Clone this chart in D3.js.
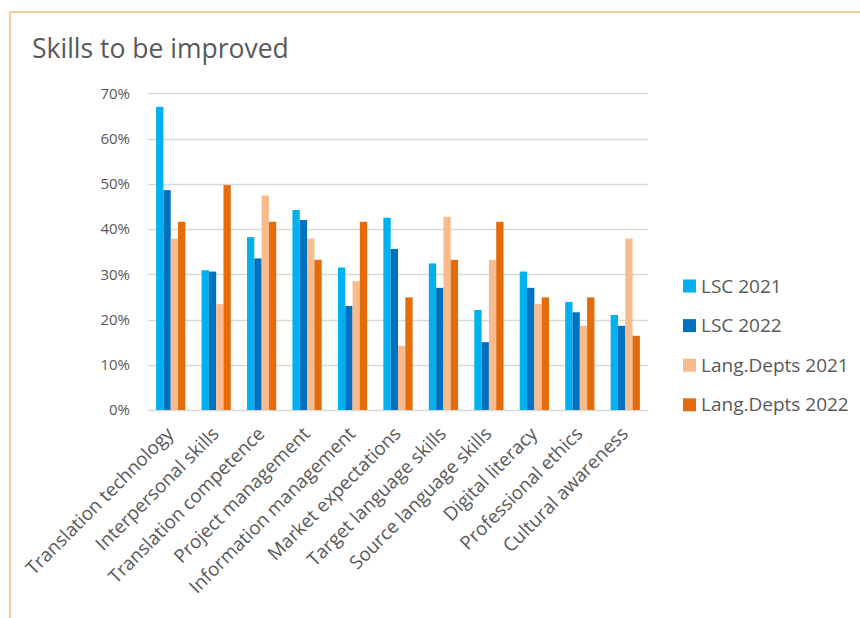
<!DOCTYPE html>
<html>
<head>
<meta charset="utf-8">
<script src="https://cdn.jsdelivr.net/npm/d3@7"></script>
<style>
  html, body { margin: 0; padding: 0; background: #fff; }
  svg { display: block; font-family: "Open Sans", "Liberation Sans", sans-serif; }
</style>
</head>
<body>
<svg id="chart" width="860" height="618"></svg>
<script>
// Skills categories and survey shares (percent)
const categories = [
  "Translation technology", "Interpersonal skills", "Translation competence",
  "Project management", "Information management", "Market expectations",
  "Target language skills", "Source language skills", "Digital literacy",
  "Professional ethics", "Cultural awareness"
];
const seriesNames = ["LSC 2021", "LSC 2022", "Lang.Depts 2021", "Lang.Depts 2022"];
const lsc2021 = [67.0, 30.9, 38.2, 44.2, 31.5, 42.5, 32.4, 22.1, 30.6, 23.9, 21.0];
const lsc2022 = [48.6, 30.6, 33.5, 42.0, 23.0, 35.6, 27.0, 15.0, 27.0, 21.6, 18.6];
const lang2021 = [37.9, 23.4, 47.4, 37.9, 28.5, 14.2, 42.7, 33.2, 23.4, 18.6, 37.9];
const lang2022 = [41.6, 49.7, 41.6, 33.2, 41.6, 24.9, 33.2, 41.6, 24.9, 24.9, 16.4];
const yTicks = [0, 10, 20, 30, 40, 50, 60, 70];
const colors = ["#00b0f0", "#0070c0", "#f8bb8e", "#e46c0a"];

const seriesValues = [lsc2021, lsc2022, lang2021, lang2022];
const rows = categories.map((c, i) => ({ cat: c, vals: seriesValues.map(s => s[i]) }));

const svg = d3.select("#chart");
const textColor = "#595959";

// Chart frame (top and left edges)
svg.append("line").attr("x1", 10).attr("x2", 860).attr("y1", 12).attr("y2", 12)
  .attr("stroke", "#f9c9a0").attr("stroke-width", 2);
svg.append("line").attr("x1", 10).attr("x2", 10).attr("y1", 12).attr("y2", 618)
  .attr("stroke", "#f9c9a0").attr("stroke-width", 2);

// Title
svg.append("text").attr("x", 32).attr("y", 58)
  .attr("font-size", 26.5).attr("fill", textColor).text("Skills to be improved");

const plot = { left: 148, right: 648, top: 93.3, bottom: 410 };

const x0 = d3.scaleBand().domain(categories)
  .range([plot.left, plot.right]).paddingInner(0.357).paddingOuter(0.1785);
const x1 = d3.scaleBand().domain(d3.range(seriesNames.length))
  .range([0, x0.bandwidth()]);
const y = d3.scaleLinear().domain([0, 70]).range([plot.bottom, plot.top]);

// Gridlines
svg.append("g").selectAll("line").data(yTicks).join("line")
  .attr("x1", plot.left).attr("x2", plot.right)
  .attr("y1", d => Math.round(y(d)) + 0.5).attr("y2", d => Math.round(y(d)) + 0.5)
  .attr("stroke", "#d9d9d9").attr("stroke-width", 1.3);

// Y axis labels
const yAxis = d3.axisLeft(y).tickValues(yTicks).tickFormat(d => d + "%").tickSize(0).tickPadding(0);
const yg = svg.append("g").attr("transform", `translate(130,0)`).call(yAxis);
yg.select(".domain").remove();
yg.selectAll("text").attr("font-size", 15).attr("fill", textColor)
  .attr("font-family", "'Open Sans', sans-serif");

// Bars
const groups = svg.append("g").selectAll("g").data(rows).join("g")
  .attr("transform", d => `translate(${x0(d.cat)},0)`);
groups.selectAll("rect").data(d => d.vals.map((v, k) => ({ v, k }))).join("rect")
  .attr("x", d => x1(d.k))
  .attr("width", x1.bandwidth())
  .attr("y", d => y(d.v))
  .attr("height", d => y(0) - y(d.v))
  .attr("fill", d => colors[d.k]);

// Category labels, rotated
const xAxis = d3.axisBottom(x0).tickSize(0).tickPadding(0);
const xg = svg.append("g").attr("transform", `translate(0,${plot.bottom})`).call(xAxis);
xg.select(".domain").remove();
xg.selectAll("text")
  .attr("font-size", 18.8).attr("fill", textColor)
  .attr("font-family", "'Open Sans', sans-serif")
  .attr("text-anchor", "end")
  .attr("dy", 0)
  .attr("transform", "translate(4,25) rotate(-45)");

// Legend
const legend = svg.append("g").selectAll("g").data(seriesNames).join("g")
  .attr("transform", (d, i) => `translate(683,${292.5 + i * 39.6})`);
legend.append("rect").attr("x", 0).attr("y", -13).attr("width", 13).attr("height", 13)
  .attr("fill", (d, i) => colors[i]);
legend.append("text").attr("x", 18).attr("y", 0)
  .attr("font-size", 19).attr("fill", textColor).text(d => d);
</script>
</body>
</html>
